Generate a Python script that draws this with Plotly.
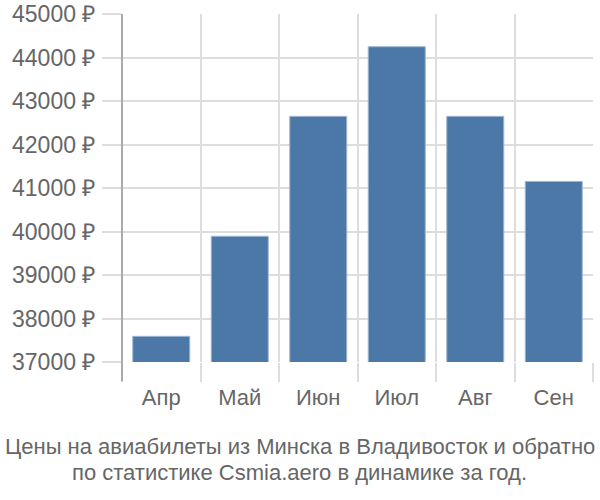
import plotly.graph_objects as go

months = ["Апр", "Май", "Июн", "Июл", "Авг", "Сен"]
prices = [37590, 39890, 42647, 44248, 42647, 41151]
tick_vals = [37000, 38000, 39000, 40000, 41000, 42000, 43000, 44000, 45000]
tick_text = [f"{v} ₽" for v in tick_vals]
title_lines = ["Цены на авиабилеты из Минска в Владивосток и обратно",
               "по статистике Csmia.aero в динамике за год."]

FONT = "Liberation Sans, Arial, sans-serif"
TXT = "#666666"
GRID = "#dddddd"

fig = go.Figure(go.Bar(
    x=months, y=prices, width=0.726,
    marker=dict(color="#4c78a8", line=dict(color="#9fb6d2", width=1)),
))

fig.update_layout(
    width=600, height=500,
    margin=dict(l=122, r=7, t=14, b=138),
    plot_bgcolor="white", paper_bgcolor="white",
    showlegend=False,
    font=dict(family=FONT, color=TXT, size=20),
)
fig.update_xaxes(
    type="category", tickson="boundaries", ticks="outside", ticklen=19,
    tickcolor=GRID, tickwidth=2, showgrid=True, gridcolor=GRID, gridwidth=2,
    showline=False, tickfont=dict(family=FONT, size=22, color=TXT),
    ticklabelstandoff=20, automargin=False,
)
fig.update_yaxes(
    range=[37000, 45000], tickvals=tick_vals, ticktext=tick_text,
    ticks="outside", ticklen=19, tickcolor=GRID, tickwidth=2,
    showgrid=True, gridcolor=GRID, gridwidth=2, zeroline=False,
    showline=False, tickfont=dict(family=FONT, size=23, color=TXT),
    ticklabelstandoff=2, automargin=False,
)
fig.add_shape(type="line", xref="paper", yref="paper", x0=0, x1=0,
              y0=-0.055, y1=1, line=dict(color="#aaaaaa", width=2))

for line, yy in zip(title_lines, [-0.242, -0.317]):
    fig.add_annotation(text=line, xref="paper", yref="paper",
                       x=0.5, xanchor="center", y=yy, yanchor="middle",
                       showarrow=False, font=dict(family=FONT, size=22, color=TXT),
                       xshift=-57.6)

fig.write_html("out.html")
